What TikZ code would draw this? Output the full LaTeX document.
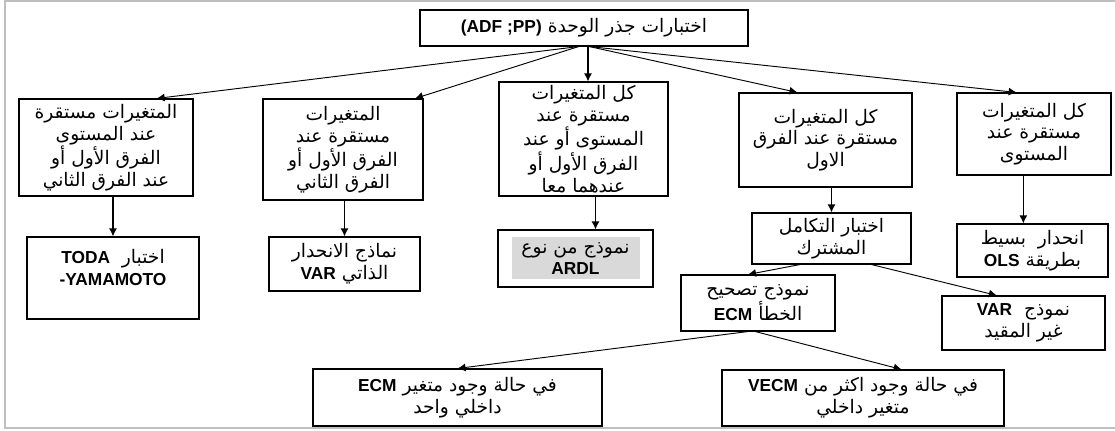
\documentclass[tikz,border=0pt]{standalone}
\usepackage{fontspec}
\setmainfont{Liberation Sans}
\newfontfamily\arabicfont[Script=Arabic, Scale=1.4]{DejaVu Sans}
\TeXXeTstate=1
\usetikzlibrary{positioning, arrows.meta}
\newcommand\arline[1]{\beginR#1\endR}
\newcommand\lat[1]{\beginL{\rmfamily\bfseries\fontsize{13}{16.3}\selectfont #1}\endL}
\tikzset{
  box/.style={draw, line width=0.8pt, align=center, inner sep=1pt,
    font=\fontsize{10}{16.3}\arabicfont\selectfont},
  sz/.style 2 args={minimum width=#1*0.75pt, minimum height=#2*0.75pt},
  arr/.style={-{Latex[length=6pt,width=6pt]}, line width=0.7pt},
  down/.style={arr, line width=1pt}
}

\begin{document}
\begin{tikzpicture}[x=0.75pt, y=-0.75pt]
  \useasboundingbox (0,0) rectangle (1115,430);
  \draw[black!25, line width=1pt] (1115,1) -- (5,1) -- (5,428) -- (1115,428);

  \node[box, sz={328}{36}] (top) at (584,28) {\arline{اختبارات جذر الوحدة \lat{(ADF ;PP)}}};

  % first row
  \node[box, sz={174}{97}] (b1) at (106,147.5) {\arline{المتغيرات مستقرة}\\ \arline{عند المستوى}\\ \arline{الفرق الأول أو}\\ \arline{عند الفرق الثاني}};
  \node[box, sz={160}{101}] (b2) at (343,149.5) {\arline{المتغيرات}\\ \arline{مستقرة عند}\\ \arline{الفرق الأول أو}\\ \arline{الفرق الثاني}};
  \node[box, sz={169}{114}] (b3) at (583.5,139) {\arline{كل المتغيرات}\\ \arline{مستقرة عند}\\ \arline{المستوى أو عند}\\ \arline{الفرق الأول أو}\\ \arline{عندهما معا}};
  \node[box, sz={173}{94}] (b4) at (825.5,140) {\arline{كل المتغيرات}\\ \arline{مستقرة عند الفرق}\\ \arline{الاول}};
  \node[box, sz={154}{82}] (b5) at (1034,134) {\arline{كل المتغيرات}\\ \arline{مستقرة عند}\\ \arline{المستوى}};

  % second row
  \node[box, sz={172}{82}] (toda) at (113,278) {\arline{اختبار \ \lat{TODA}}\\ \lat{-YAMAMOTO}\\ \mbox{}};
  \node[box, sz={151}{54}] (var) at (344.5,264) {\arline{نماذج الانحدار}\\ \arline{الذاتي \lat{VAR}}};
  \node[box, sz={155}{57}, path picture={\fill[black!15] ([shift={(10.5pt,-5.25pt)}]path picture bounding box.north west) rectangle ([shift={(-9.75pt,6pt)}]path picture bounding box.south east);}] (ardl) at (575.5,258.5) {\arline{نموذج من نوع}\\ \lat{ARDL}};
  \node[box, sz={159}{51}] (coint) at (831.5,238.5) {\arline{اختبار التكامل}\\ \arline{المشترك}};
  \node[box, sz={151}{53}] (ols) at (1032.5,250.5) {\arline{انحدار \ بسيط}\\ \arline{بطريقة \lat{OLS}}};

  % third row
  \node[box, sz={154}{56}] (ecm) at (758,303) {\arline{نموذج تصحيح}\\ \arline{الخطأ \lat{ECM}}};
  \node[box, sz={163}{54}] (varu) at (1023.5,323) {\arline{نموذج \ \lat{VAR}}\\ \arline{غير المقيد}};
  \node[box, sz={289}{57}] (ecm1) at (457.5,397.5) {\arline{في حالة وجود متغير \lat{ECM}}\\ \arline{داخلي واحد}};
  \node[box, sz={282}{56}] (vecm) at (863,398) {\arline{في حالة وجود اكثر من \lat{VECM}}\\ \arline{متغير داخلي}};

  % connectors
  \draw[arr] ([xshift=-4pt]top.south) -- ([xshift=38pt]b1.north);
  \draw[arr] ([xshift=-4pt]top.south) -- ([xshift=54pt]b2.north);
  \draw[down] ([xshift=3pt]top.south) -- ([xshift=3pt]top.south |- b3.north);
  \draw[arr] ([xshift=4pt]top.south) -- ([xshift=-21pt]b4.north);
  \draw[arr] ([xshift=4pt]top.south) -- ([xshift=-13pt]b5.north);

  \draw[down] (b1.south -| toda.north) -- (toda.north);
  \draw[down] (b2.south -| var.north) -- (var.north);
  \draw[down] ([xshift=9pt]b3.south) -- ([xshift=9pt]b3.south |- ardl.north);
  \draw[down] (b4.south -| coint.north) -- (coint.north);
  \draw[down] ([xshift=-8pt]b5.south) -- ([xshift=-8pt]b5.south |- ols.north);

  \draw[arr] ([xshift=-23.6pt]coint.south) -- ([xshift=-7.5pt]ecm.north);
  \draw[arr] ([xshift=30pt]coint.south) -- ([xshift=-20pt]varu.north);
  \draw[arr] ([xshift=-7.5pt]ecm.south) -- (ecm1.north);
  \draw[arr] ([xshift=-2pt]ecm.south) -- ([xshift=29pt]vecm.north);
\end{tikzpicture}
\end{document}
